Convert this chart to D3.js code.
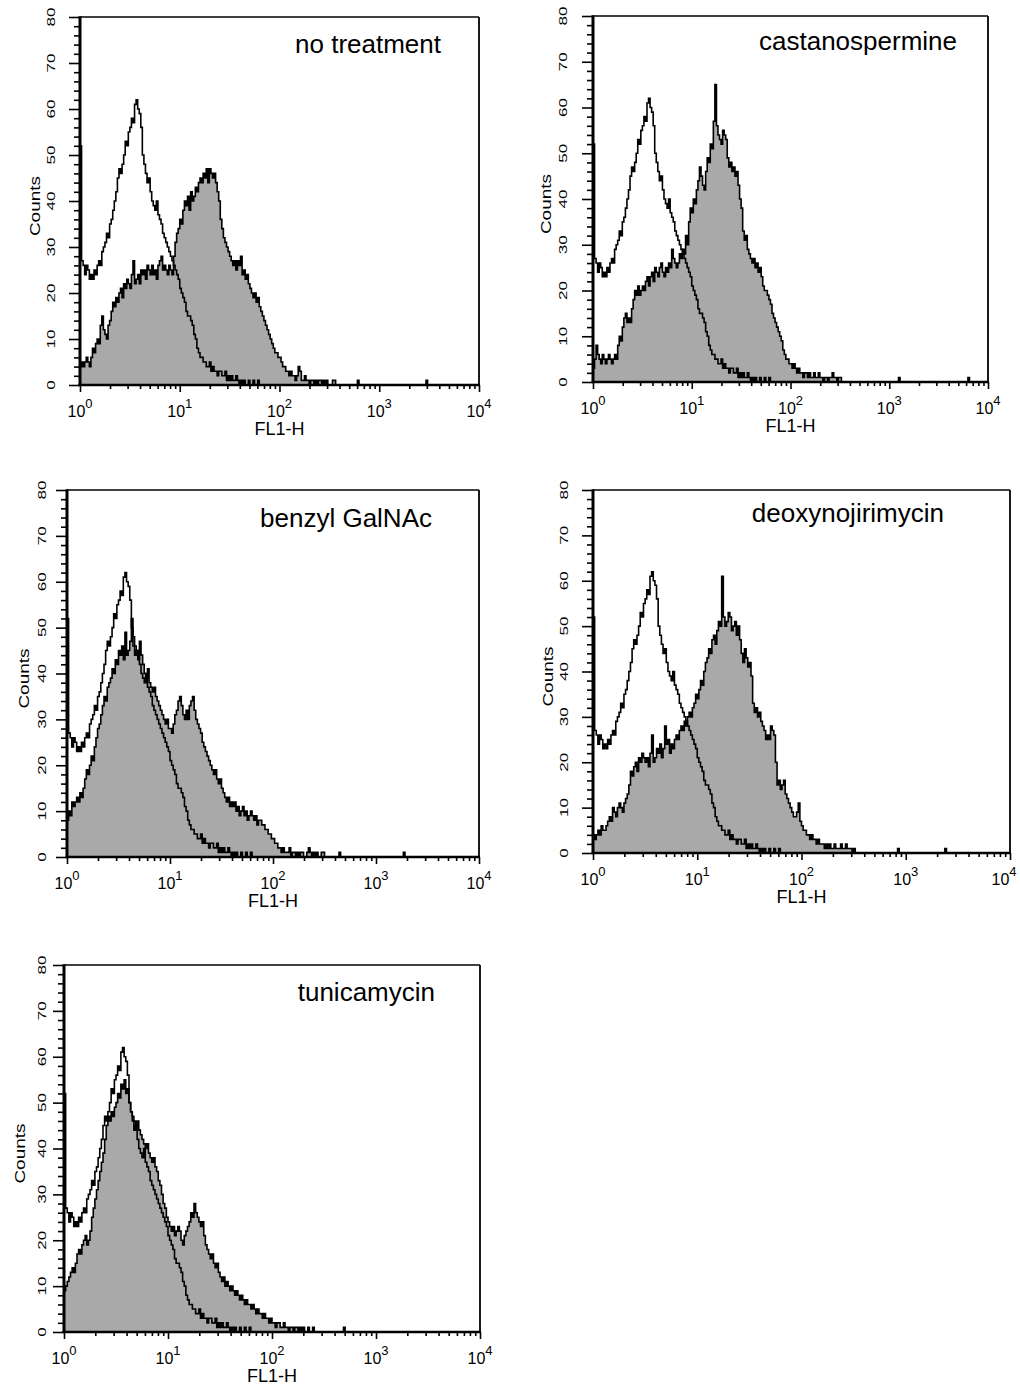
<!DOCTYPE html>
<html>
<head>
<meta charset="utf-8">
<script src="https://cdn.jsdelivr.net/npm/d3@7"></script>
<style>
  html, body { margin: 0; padding: 0; background: #ffffff; }
  svg { display: block; }
  text { font-family: "Liberation Sans", Arial, Helvetica, sans-serif; fill: #000; }
</style>
</head>
<body>
<script>
// ---------------- DATA (counts per channel, 64 channels per decade, channel c at 10^(c/64)) ----------------
const titles = ["no treatment", "castanospermine", "benzyl GalNAc", "deoxynojirimycin", "tunicamycin"];

// isotype / unstained control histogram (open black outline), same in every panel
const control = [
  52,27,26,24,26,25,23,24, 23,25,24,26,27,26,29,30, 31,33,32,35,36,38,40,42, 45,47,46,48,50,53,52,55,
  56,58,57,61,62,60,59,56, 50,48,46,44,45,42,40,39, 38,40,37,36,35,33,32,31, 30,29,28,27,26,25,24,23,
  21,20,19,18,16,15,15,14, 13,11,10,8,7,6,6,5, 5,4,4,5,3,4,3,3, 2,3,3,2,2,3,1,2,
  1,2,1,1,2,1,0,1, 0,1,0,0,1,0,0,1, 0,0,1,0,0,0,0,0
];

const noTreatment = [
  4,5,4,5,6,5,4,6, 8,7,9,10,9,13,15,12, 11,10,13,14,16,18,17,19, 18,20,21,19,22,21,23,22,
  21,24,27,22,23,24,22,25, 24,25,23,26,25,24,26,24, 25,23,26,27,28,25,26,25, 24,26,25,24,28,31,33,34,
  36,35,38,40,39,41,38,42, 40,41,43,42,44,45,44,46, 45,47,44,47,46,45,46,44, 42,40,36,34,32,31,30,29,
  28,27,26,27,25,27,26,28, 24,25,23,24,22,21,20,19, 20,18,19,17,16,15,14,13, 12,11,10,9,8,7,7,6,
  6,5,4,4,3,3,2,3, 2,2,1,2,4,3,1,1, 2,1,1,0,1,1,0,1, 0,1,1,0,1,0,1,0, 0,0,1,1,0,0,0,0
];
const noTreatmentBlips = [178, 222];

const castanospermine = [
  3,5,8,6,5,4,6,5, 4,5,6,5,4,5,6,5, 8,10,9,12,14,15,13,14, 13,16,18,20,19,21,19,20,
  21,20,22,23,21,23,24,22, 25,24,23,25,26,24,23,25, 24,26,25,29,27,26,25,26, 28,27,29,28,32,30,35,38,
  37,40,39,42,44,47,45,43, 42,46,49,48,52,51,57,65, 56,54,53,52,55,54,53,49, 47,48,46,47,45,46,43,40,
  38,33,31,32,29,28,27,26, 27,25,26,24,25,23,21,20, 20,19,18,17,15,14,13,12, 11,10,9,7,6,5,5,4,
  4,3,4,3,2,3,2,2, 1,2,2,1,2,1,1,2, 1,1,2,1,1,0,1,1, 0,1,1,2,1,1,0,1, 1,0,0,0,0,0,0,0
];
const castanospermineBlips = [198, 243];

const benzylGalNAc = [
  8,10,9,12,11,12,13,12, 14,13,15,17,19,18,20,22, 21,24,26,28,29,31,33,35, 34,37,38,39,41,40,43,42,
  45,44,46,43,49,44,45,47, 52,46,44,45,43,47,44,42, 40,39,41,38,37,36,37,35, 34,33,32,31,30,29,30,28,
  28,27,29,31,32,34,35,33, 31,30,32,30,33,34,35,32, 30,29,28,27,25,24,23,22, 21,20,19,18,19,17,16,17,
  15,14,13,12,13,11,12,11, 12,10,11,9,10,11,9,10, 8,9,10,9,8,9,7,8, 8,7,7,6,6,5,5,4,
  4,3,3,2,2,1,2,1, 1,1,2,0,1,1,0,1, 0,1,1,0,0,1,2,1, 0,1,0,1,0,0,1,1, 0,0,0,0,0,0,0,0,
  0,1,0,0,0,0,0,0
];
const benzylGalNAcBlips = [209];

const deoxynojirimycin = [
  4,3,4,5,4,6,5,5, 6,7,8,7,10,9,8,10, 11,10,9,11,12,13,15,18, 17,19,20,18,21,20,22,21,
  20,21,19,22,26,20,21,23, 22,24,21,23,28,24,25,22, 24,23,25,26,25,27,28,27, 29,28,30,31,30,32,33,35,
  34,36,38,37,40,42,43,45, 44,47,48,46,49,51,50,61, 52,50,51,53,52,49,50,51, 48,50,47,44,42,45,43,41,
  42,39,33,31,32,30,31,29, 28,27,25,26,25,28,27,26, 20,15,16,14,15,16,13,12, 11,10,9,8,8,9,11,7,
  6,5,5,4,4,3,4,3, 3,2,3,2,2,2,1,2, 1,2,1,1,2,1,1,1, 2,1,1,2,1,1,1,0, 1,0,0,0,0,0,0,0
];
const deoxynojirimycinBlips = [187, 216];

const tunicamycin = [
  9,10,11,12,13,14,13,15, 17,18,17,19,20,21,19,20, 22,25,27,29,31,33,35,37, 39,42,45,47,46,48,47,49,
  50,52,51,54,53,55,52,53, 50,48,47,46,45,46,44,43, 42,41,40,41,39,38,37,38, 36,35,33,32,30,28,27,25,
  24,23,22,23,21,22,23,22, 20,19,21,22,23,24,26,25, 28,26,25,24,23,24,21,19, 18,17,16,17,15,14,15,13,
  12,11,12,10,11,10,9,10, 9,8,9,8,7,8,7,6, 7,6,6,5,6,5,4,5, 4,4,3,4,3,3,2,3,
  2,2,1,2,2,1,1,2, 1,1,0,1,1,0,1,1, 0,1,0,1,0,0,1,0, 0,1,0,0,0,0,0,0
];
const tunicamycinBlips = [172];

const treatedSeries = [noTreatment, castanospermine, benzylGalNAc, deoxynojirimycin, tunicamycin];
const treatedBlips  = [noTreatmentBlips, castanospermineBlips, benzylGalNAcBlips, deoxynojirimycinBlips, tunicamycinBlips];

const yTickValues = [0, 10, 20, 30, 40, 50, 60, 70, 80];
const xDecades = [1, 10, 100, 1000, 10000];
const xExponentLabels = ["0", "1", "2", "3", "4"];
const xAxisLabel = "FL1-H";
const yAxisLabel = "Counts";

// ---------------- LAYOUT (positions only) ----------------
const layout = [
  { left: 80,  right: 479,  top: 17,  bottom: 385,  titleRight: 441, titleBase: 53,   tickOff: 29,   countsOff: 45 },
  { left: 593, right: 988,  top: 16,  bottom: 382,  titleRight: 957, titleBase: 50,   tickOff: 30,   countsOff: 47.5 },
  { left: 67,  right: 479,  top: 490, bottom: 857,  titleRight: 432, titleBase: 527,  tickOff: 24.5, countsOff: 43.5 },
  { left: 593, right: 1010, top: 490, bottom: 853,  titleRight: 944, titleBase: 522,  tickOff: 29,   countsOff: 45.5 },
  { left: 64,  right: 480,  top: 965, bottom: 1332, titleRight: 435, titleBase: 1001, tickOff: 21.5, countsOff: 44.5 }
];
const CH_PER_DECADE = 64;
const N_CH = 256;
const PAGE_W = 1020;

// ---------------- DRAW ----------------
const svg = d3.select("body").append("svg")
  .attr("width", PAGE_W).attr("height", 1385);
svg.append("rect").attr("width", PAGE_W).attr("height", 1385).attr("fill", "#fff");

function toPoints(values, blips) {
  const arr = new Array(N_CH).fill(0);
  values.forEach((v, i) => { arr[i] = v; });
  blips.forEach(c => { arr[c] = Math.max(arr[c], 1); });
  const pts = arr.map((v, c) => ({ x: Math.pow(10, c / CH_PER_DECADE), y: v }));
  pts.push({ x: 1e4, y: 0 });
  return pts;
}

const xMinor = [];
for (let k = 0; k < 4; k++) for (let m = 2; m <= 9; m++) xMinor.push(m * Math.pow(10, k));
const yMinor = d3.range(0, 81, 2).filter(v => v % 10 !== 0);

layout.forEach((L, i) => {
  const x = d3.scaleLog().domain([1, 1e4]).range([L.left, L.right]);
  const y = d3.scaleLinear().domain([0, 80]).range([L.bottom, L.top]);
  const g = svg.append("g");

  const clipId = "clip" + i;
  svg.append("clipPath").attr("id", clipId)
    .append("rect").attr("x", L.left).attr("y", L.top - 1)
    .attr("width", L.right - L.left).attr("height", L.bottom - L.top + 1);

  const treated = toPoints(treatedSeries[i], treatedBlips[i]);
  const ctrl = toPoints(control, []);

  const area = d3.area().curve(d3.curveStepAfter)
    .x(d => x(d.x)).y0(y(0)).y1(d => y(d.y));
  const line = d3.line().curve(d3.curveStepAfter)
    .x(d => x(d.x)).y(d => y(d.y));

  const plot = g.append("g").attr("clip-path", `url(#${clipId})`);
  plot.append("path").datum(treated).attr("d", area).attr("fill", "#a9a9a9").attr("stroke", "none");
  plot.append("path").datum(treated).attr("d", line).attr("fill", "none")
    .attr("stroke", "#000").attr("stroke-width", 1.6).attr("stroke-linejoin", "miter");
  plot.append("path").datum(ctrl).attr("d", line).attr("fill", "none")
    .attr("stroke", "#000").attr("stroke-width", 1.6).attr("stroke-linejoin", "miter");

  // frame: top and right
  g.append("line").attr("x1", L.left).attr("x2", L.right).attr("y1", L.top).attr("y2", L.top)
    .attr("stroke", "#000").attr("stroke-width", 1.5);
  g.append("line").attr("x1", L.right).attr("x2", L.right).attr("y1", L.top).attr("y2", L.bottom)
    .attr("stroke", "#000").attr("stroke-width", 1.8);

  // y axis ticks
  const yAxMinor = g.append("g").attr("transform", `translate(${L.left},0)`)
    .call(d3.axisLeft(y).tickValues(yMinor).tickSize(6).tickFormat(""));
  const yAxMajor = g.append("g").attr("transform", `translate(${L.left},0)`)
    .call(d3.axisLeft(y).tickValues(yTickValues).tickSize(11).tickFormat(""));
  // x axis ticks
  const xAxMinor = g.append("g").attr("transform", `translate(0,${L.bottom})`)
    .call(d3.axisBottom(x).tickValues(xMinor).tickSize(4).tickFormat(""));
  const xAxMajor = g.append("g").attr("transform", `translate(0,${L.bottom})`)
    .call(d3.axisBottom(x).tickValues(xDecades).tickSize(7).tickFormat(""));
  [yAxMinor, yAxMajor, xAxMinor, xAxMajor].forEach(a => {
    a.select(".domain").remove();
    a.selectAll(".tick line").attr("stroke", "#000").attr("stroke-width", 1.6);
  });

  // axis lines
  g.append("line").attr("x1", L.left).attr("x2", L.left).attr("y1", L.top - 0.75).attr("y2", L.bottom + 1)
    .attr("stroke", "#000").attr("stroke-width", 3);
  g.append("line").attr("x1", L.left - 1.5).attr("x2", L.right + 1).attr("y1", L.bottom).attr("y2", L.bottom)
    .attr("stroke", "#000").attr("stroke-width", 2.5);

  // y tick labels (rotated, glyph height compressed as in the original scan)
  yTickValues.forEach(v => {
    g.append("text")
      .attr("transform", `translate(${L.left - L.tickOff},${y(v)}) rotate(-90) scale(1,0.6)`)
      .attr("y", 0.358 * 17)
      .attr("text-anchor", "middle")
      .attr("font-size", 17)
      .text(v);
  });
  // y axis title
  g.append("text")
    .attr("transform", `translate(${L.left - L.countsOff},${(L.top + L.bottom) / 2 + 5}) rotate(-90) scale(1,0.74)`)
    .attr("y", 0.358 * 19)
    .attr("text-anchor", "middle")
    .attr("font-size", 19)
    .text(yAxisLabel);

  // x tick labels 10^k
  xDecades.forEach((v, k) => {
    const cx = Math.min(x(v), PAGE_W - 16);
    const t = g.append("text")
      .attr("x", cx).attr("y", L.bottom + 32)
      .attr("text-anchor", "middle")
      .attr("font-size", 16);
    t.append("tspan").text("10");
    t.append("tspan").attr("dy", -9).attr("font-size", 13).text(xExponentLabels[k]);
  });
  // x axis title
  g.append("text")
    .attr("x", (L.left + L.right) / 2).attr("y", L.bottom + 50)
    .attr("text-anchor", "middle").attr("font-size", 18)
    .text(xAxisLabel);

  // panel title
  g.append("text")
    .attr("x", L.titleRight).attr("y", L.titleBase)
    .attr("text-anchor", "end").attr("font-size", 26)
    .text(titles[i]);
});
</script>
</body>
</html>
